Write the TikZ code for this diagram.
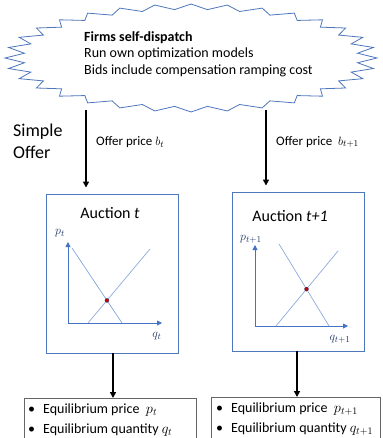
\documentclass[tikz,border=0pt]{standalone}
\usepackage{fontspec}
\setmainfont{Carlito}
\usetikzlibrary{arrows.meta,calc}
\definecolor{frameblue}{RGB}{79,119,189}
\definecolor{axisblue}{RGB}{68,114,196}
\definecolor{lineblue}{RGB}{143,170,220}
\definecolor{labblue}{RGB}{31,56,100}
\tikzset{
  flow/.style={line width=1.6pt,-{Triangle[length=6pt,width=6pt]}},
  auction/.style={draw=frameblue,line width=0.9pt,minimum width=132pt,minimum height=159pt,inner sep=0pt},
  result/.style={draw=black!60,line width=0.6pt,minimum width=172pt,minimum height=55pt,inner sep=0pt},
  axis/.style={draw=axisblue,line width=0.9pt,-{Triangle[length=5pt,width=5pt]}},
  curve/.style={draw=lineblue,line width=0.7pt},
  eqdot/.style={circle,fill=red!80!black,draw=labblue,line width=0.3pt,inner sep=0pt,minimum size=4pt},
  lbl/.style={inner sep=0pt,font=\fontsize{13}{15}\selectfont}
}
\begin{document}
\begin{tikzpicture}[x=1pt,y=-1pt]
\useasboundingbox (0,0) rectangle (382,438);
\clip (0,0) rectangle (382,438);
% cloud
\draw[frameblue,line width=0.8pt,fill=white]
  plot[samples at={0,...,63}] ({191+186*(0.95+0.05*cos(\x*180))*cos(\x*5.625)},{58+54*(0.95+0.05*cos(\x*180))*sin(\x*5.625)}) -- cycle;
\node[lbl,anchor=west,align=left,font=\fontsize{14}{16.5}\selectfont] (cloudtext) at (84,54)
  {\textbf{Firms self-dispatch}\\Run own optimization models\\Bids include compensation ramping cost};
\coordinate (cl) at (86,110);
\coordinate (cr) at (266,110);
% side label
\node[lbl,anchor=west,align=left,font=\fontsize{18}{22}\selectfont] (simple) at (13,141) {Simple\\Offer};
% auction boxes
\node[auction] (boxL) at (112,273.5) {};
\node[auction] (boxR) at (298,271.5) {};
\draw[flow,shorten >=6pt] (cl) -- (cl |- boxL.north);
\draw[flow,shorten >=6pt] (cr) -- (cr |- boxR.north);
\node[lbl,anchor=west] (offL) at (96,142) {Offer price $b_t$};
\node[lbl,anchor=west] (offR) at (276,142) {Offer price \ $b_{t+1}$};
\node[lbl,font=\fontsize{16}{18}\selectfont] (tL) at (110,213) {Auction \textit{t}};
\node[lbl,font=\fontsize{16}{18}\selectfont] (tR) at (290,216) {Auction \textit{t+1}};
% left graph
\coordinate (oL) at (68,323);
\draw[axis] (oL) -- (68,242);
\draw[axis] (oL) -- (162,323);
\node[lbl,text=labblue] (pL) at (60,233) {$p_t$};
\node[lbl,text=labblue] (qL) at (157,336) {$q_t$};
\coordinate (dL1) at (72,248); \coordinate (dL2) at (122,323);
\coordinate (sL1) at (88,323); \coordinate (sL2) at (150,249);
\draw[curve] (dL1) -- (dL2);
\draw[curve] (sL1) -- (sL2);
\node[eqdot] (eL) at (intersection of dL1--dL2 and sL1--sL2) {};
% right graph
\coordinate (oR) at (255,326);
\draw[axis] (oR) -- (255,245);
\draw[axis] (oR) -- (348,326);
\node[lbl,text=labblue] (pR) at (251,239) {$p_{t+1}$};
\node[lbl,text=labblue] (qR) at (340,339) {$q_{t+1}$};
\coordinate (dR1) at (279,244); \coordinate (dR2) at (329,326);
\coordinate (sR1) at (276,326); \coordinate (sR2) at (338,251);
\draw[curve] (dR1) -- (dR2);
\draw[curve] (sR1) -- (sR2);
\node[eqdot] (eR) at (intersection of dR1--dR2 and sR1--sR2) {};
% result boxes
\node[result,anchor=north west] (resL) at (24,398) {};
\node[result,anchor=north west,minimum width=169pt] (resR) at (211,397) {};
\coordinate (bl) at (113,353);
\coordinate (br) at (297,351);
\draw[flow] (bl) -- (bl |- resL.north);
\draw[flow] (br) -- (br |- resR.north);
\node[lbl,anchor=west,align=left,font=\fontsize{14}{20}\selectfont] (rL) at (28,420)
  {\textbullet\hspace{8pt}Equilibrium price \ $p_t$\\\textbullet\hspace{8pt}Equilibrium quantity $q_t$};
\node[lbl,anchor=west,align=left,font=\fontsize{14}{20}\selectfont] (rR) at (216,419)
  {\textbullet\hspace{8pt}Equilibrium price \ $p_{t+1}$\\\textbullet\hspace{8pt}Equilibrium quantity $q_{t+1}$};
\end{tikzpicture}
\end{document}
